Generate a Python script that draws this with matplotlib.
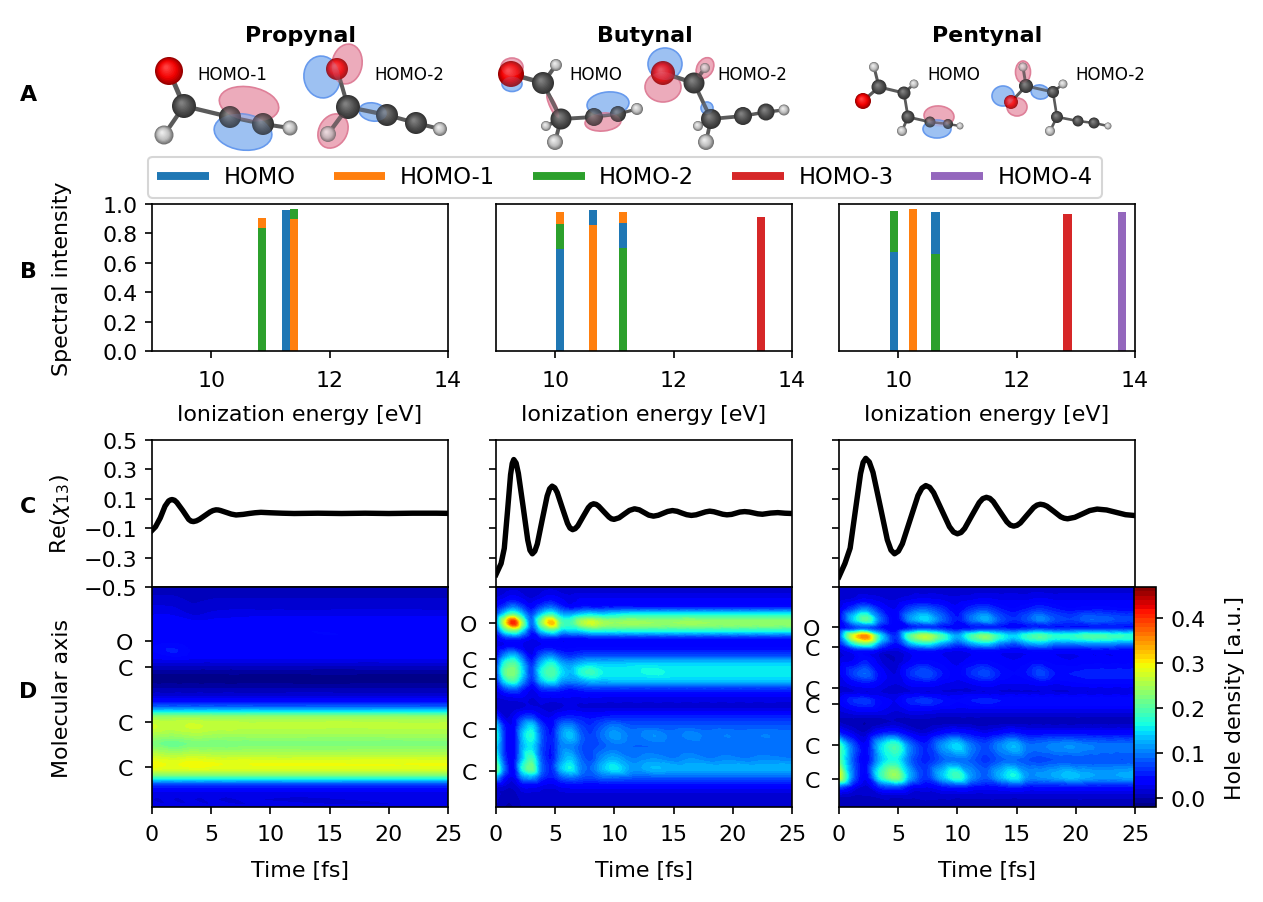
import numpy as np
import matplotlib
matplotlib.use("Agg")
import matplotlib.pyplot as plt
import matplotlib.tri as mtri
from matplotlib.lines import Line2D
from matplotlib.patches import Circle, Ellipse

W, H = 1263, 903
FS = 10.6

names = ["Propynal", "Butynal", "Pentynal"]
orbitals = ["HOMO", "HOMO-1", "HOMO-2", "HOMO-3", "HOMO-4"]
orb_colors = ["#1f77b4", "#ff7f0e", "#2ca02c", "#d62728", "#9467bd"]

# spectral peaks: energy and stacks of (orbital index, top of the segment)
energy_pro = [10.86, 11.27, 11.40]
stack_pro = [[(2, 0.837), (1, 0.905)], [(0, 0.96)], [(1, 0.898), (2, 0.966)]]
energy_but = [10.08, 10.64, 11.15, 13.48]
stack_but = [[(0, 0.697), (2, 0.864), (1, 0.948)], [(1, 0.86), (0, 0.96)],
             [(2, 0.70), (0, 0.869), (1, 0.946)], [(3, 0.914)]]
energy_pen = [9.93, 10.25, 10.63, 12.86, 13.78]
stack_pen = [[(0, 0.674), (2, 0.95)], [(1, 0.964)], [(2, 0.66), (0, 0.946)],
             [(3, 0.932)], [(4, 0.948)]]

# Re(chi_13) curves
t_pro = [0, 0.3, 0.7, 1.1, 1.4, 1.55, 1.7, 1.9, 2.1, 2.6, 3.1, 3.3, 3.5, 3.75, 4.0, 4.45, 4.9, 5.15, 5.4, 5.6,
         5.8, 6.25, 6.7, 7.1, 7.7, 8.2, 8.7, 9.2, 10, 11, 12, 14, 16, 18, 20, 22, 24, 25]
chi_pro = [-0.115, -0.09, -0.03, 0.05, 0.085, 0.092, 0.095, 0.09, 0.075, 0.02, -0.04, -0.052, -0.055, -0.05,
           -0.04, -0.015, 0.01, 0.02, 0.025, 0.024, 0.02, 0.008, -0.004, -0.01, -0.006, 0, 0.005, 0.008, 0.005,
           0.002, 0, 0.002, 0, 0.002, 0, 0.002, 0.002, 0.001]
t_but = [0, 0.43, 0.7, 0.97, 1.23, 1.37, 1.5, 1.7, 1.89, 2.29, 2.68, 2.87, 3.07, 3.28, 3.49, 3.9, 4.32, 4.53,
         4.74, 4.96, 5.17, 5.6, 6.04, 6.25, 6.47, 6.69, 6.91, 7.35, 7.8, 8.02, 8.24, 8.46, 8.67, 9.1, 9.54,
         9.75, 9.97, 10.4, 10.83, 11.27, 11.7, 12.1, 12.5, 12.9,
         13.3, 13.7, 14.1, 14.5, 14.9, 15.3, 15.7, 16.1, 16.5, 16.9, 17.3, 17.7, 18.05, 18.4, 18.8, 19.15,
         19.5, 19.9, 20.25, 20.6, 21, 21.4, 21.75, 22.1, 22.5, 23.2, 23.8, 24.4, 25]
chi_but = [-0.415, -0.34, -0.237, 0.013, 0.264, 0.34, 0.367, 0.343, 0.273, 0.047, -0.18, -0.25, -0.274, -0.256,
           -0.207, -0.044, 0.119, 0.168, 0.186, 0.175, 0.143, 0.038, -0.067, -0.099, -0.11, -0.103, -0.084,
           -0.022, 0.04, 0.059, 0.066, 0.062, 0.05, 0.013, -0.024, -0.036, -0.04,
           -0.029, -0.004, 0.021, 0.032, 0.025, 0.007, -0.011, -0.018, -0.012, 0.001, 0.014, 0.02, 0.015,
           0.003, -0.008, -0.013, -0.009, 0.001, 0.011, 0.016, 0.012, 0.003, -0.005, -0.009, -0.006, 0.002,
           0.01, 0.013, 0.01, 0.004, -0.002, -0.005, 0.003, 0.006, 0.002, 0]
t_pen = [0, 0.5, 0.94, 1.38, 1.82, 2.04, 2.26, 2.56, 2.87, 3.48, 4.08, 4.39, 4.69, 5.02, 5.35, 6.01, 6.67, 7.0,
         7.33, 7.66, 7.99, 8.66, 9.33, 9.67, 10, 10.31, 10.61, 11.22, 11.84, 12.14, 12.45, 12.74, 13.03, 13.6,
         14.18, 14.47, 14.76, 15.04, 15.32, 15.88, 16.44, 16.72, 17, 17.29, 17.57, 18.15,
         18.72, 19.01, 19.3, 19.92, 20.55, 21.17, 21.8, 22.6, 23.4, 24.2, 25]
chi_pen = [-0.43, -0.34, -0.236, 0.018, 0.271, 0.348, 0.375, 0.35, 0.28, 0.05, -0.179, -0.249, -0.274, -0.256,
           -0.206, -0.042, 0.122, 0.172, 0.19, 0.178, 0.142, 0.026, -0.09, -0.126, -0.138, -0.129, -0.102,
           -0.014, 0.074, 0.101, 0.11, 0.103, 0.081, 0.012, -0.057, -0.079, -0.086, -0.08,
           -0.064, -0.011, 0.041, 0.057, 0.063, 0.059, 0.049, 0.014, -0.022, -0.032, -0.036, -0.026, -0.003,
           0.02, 0.03, 0.024, 0.008, -0.008, -0.014]

# hole density grids, rows run down the molecular axis
atoms_pro = [187, 265, 430, 566]
labels_pro = ["O", "C", "C", "C"]
times_pro = [0, 1.7, 3.5, 5.5, 9, 25]
rows_pro = [25, 60, 85, 110, 130, 200, 215, 240, 265, 300, 330, 360, 385, 400, 415, 440, 470, 495, 530,
            560, 585, 600, 615, 640, 685]
dens_pro = [
    [.005, .005, .005, .005, .005, .005],
    [.012, .012, .008, .010, .010, .010],
    [.022, .020, .012, .016, .016, .016],
    [.030, .030, .020, .025, .028, .028],
    [.030, .035, .032, .034, .036, .036],
    [.038, .042, .038, .038, .038, .038],
    [.040, .052, .038, .038, .038, .038],
    [.030, .032, .030, .030, .030, .030],
    [.005, .005, .005, .005, .005, .005],
    [-.015, -.015, -.015, -.015, -.015, -.015],
    [.000, .000, .000, .000, .000, .000],
    [.030, .030, .030, .030, .030, .030],
    [.090, .090, .090, .090, .090, .090],
    [.160, .160, .160, .160, .160, .160],
    [.235, .235, .235, .235, .235, .235],
    [.272, .265, .272, .265, .262, .262],
    [.250, .242, .250, .245, .245, .245],
    [.225, .210, .222, .222, .225, .225],
    [.268, .258, .265, .260, .260, .260],
    [.296, .288, .296, .290, .290, .290],
    [.240, .240, .240, .240, .240, .240],
    [.160, .160, .160, .160, .160, .160],
    [.080, .080, .080, .080, .080, .080],
    [.030, .030, .030, .030, .030, .030],
    [.020, .020, .020, .020, .020, .020],
]

atoms_but = [132, 241, 300, 452, 577]
labels_but = ["O", "C", "C", "C", "C"]
times_but = [0, .7, 1.5, 2.2, 3, 3.8, 4.7, 5.5, 6.3, 7.2, 8, 9, 9.9, 11.5, 13.3, 15, 16.5, 18, 19.5, 21, 22.6, 25]
rows_but = [25, 60, 85, 105, 132, 155, 180, 200, 230, 255, 280, 305, 330, 355, 390, 415, 440, 468, 505,
            540, 570, 595, 620, 650, 685]
dens_but = [
    [.010, .012, .015, .012, .010, .012, .015, .012, .010, .010, .010, .010, .010, .010, .010, .010, .010, .010, .010, .010, .010, .010],
    [.020, .030, .040, .030, .020, .030, .040, .030, .025, .030, .030, .030, .030, .030, .030, .030, .030, .030, .030, .030, .030, .030],
    [.040, .070, .100, .070, .040, .070, .090, .060, .040, .050, .050, .050, .050, .050, .050, .050, .050, .050, .050, .050, .050, .050],
    [.060, .140, .190, .130, .070, .130, .170, .120, .110, .130, .140, .130, .140, .150, .150, .150, .150, .150, .150, .150, .150, .150],
    [.090, .270, .410, .240, .090, .220, .330, .200, .190, .250, .275, .250, .240, .245, .240, .240, .245, .240, .240, .240, .240, .240],
    [.060, .170, .220, .150, .060, .140, .190, .140, .140, .150, .170, .170, .170, .170, .170, .170, .170, .170, .170, .170, .170, .170],
    [.030, .050, .060, .050, .030, .045, .050, .040, .040, .040, .045, .045, .045, .045, .045, .045, .045, .045, .045, .045, .045, .045],
    [.020, .030, .035, .030, .020, .030, .035, .035, .035, .035, .035, .035, .035, .035, .035, .035, .035, .035, .035, .035, .035, .035],
    [.030, .100, .130, .080, .030, .080, .100, .070, .060, .070, .075, .075, .075, .075, .075, .075, .075, .075, .075, .075, .075, .075],
    [.050, .170, .200, .130, .060, .130, .170, .125, .110, .130, .140, .135, .135, .140, .140, .140, .140, .140, .140, .140, .140, .140],
    [.060, .200, .225, .150, .070, .160, .200, .150, .130, .170, .185, .160, .155, .155, .165, .155, .155, .155, .155, .155, .155, .155],
    [.050, .150, .190, .120, .060, .130, .165, .120, .110, .120, .135, .130, .135, .135, .135, .135, .135, .135, .135, .135, .135, .135],
    [.030, .070, .090, .060, .030, .060, .070, .060, .050, .060, .065, .065, .065, .065, .065, .065, .065, .065, .065, .065, .065, .065],
    [.020, .025, .030, .030, .020, .030, .030, .030, .030, .030, .030, .030, .030, .030, .030, .030, .030, .030, .030, .030, .030, .030],
    [.020, .010, .015, .020, .025, .020, .015, .020, .025, .020, .020, .020, .020, .020, .020, .020, .020, .020, .020, .020, .020, .020],
    [.070, .020, .030, .060, .070, .035, .030, .050, .055, .050, .045, .050, .055, .055, .055, .055, .055, .055, .055, .055, .055, .055],
    [.140, .050, .035, .100, .140, .070, .040, .090, .100, .070, .060, .080, .095, .080, .080, .080, .080, .080, .080, .080, .080, .080],
    [.170, .060, .035, .130, .170, .085, .050, .110, .135, .085, .070, .095, .115, .095, .110, .095, .105, .095, .100, .095, .100, .095],
    [.150, .060, .035, .120, .150, .080, .050, .100, .105, .080, .075, .085, .095, .090, .090, .090, .090, .090, .090, .090, .090, .090],
    [.180, .070, .040, .130, .190, .085, .050, .110, .135, .090, .075, .110, .125, .100, .110, .100, .110, .100, .105, .100, .105, .100],
    [.225, .090, .040, .160, .215, .095, .060, .130, .160, .100, .090, .130, .155, .115, .130, .125, .125, .125, .125, .125, .125, .125],
    [.120, .050, .030, .100, .120, .070, .050, .080, .095, .080, .075, .090, .090, .085, .085, .085, .085, .085, .085, .085, .085, .085],
    [.030, .020, .015, .035, .040, .030, .025, .035, .040, .040, .040, .040, .040, .040, .040, .040, .040, .040, .040, .040, .040, .040],
    [.015, .005, .005, .015, .015, .015, .015, .015, .015, .015, .015, .015, .015, .015, .015, .015, .015, .015, .015, .015, .015, .015],
    [.010, .000, .000, .010, .010, .010, .010, .010, .010, .010, .010, .010, .010, .010, .010, .010, .010, .010, .010, .010, .010, .010],
]

atoms_pen = [145, 205, 329, 377, 498, 600]
labels_pen = ["O", "C", "C", "C", "C", "C"]
times_pen = [0, 1.2, 2.26, 3.5, 4.8, 6, 7.3, 8.7, 10, 11.2, 12.4, 13.6, 14.8, 15.9, 17, 18.2, 19.5, 21.2, 22.5, 24, 25]
rows_pen = [25, 65, 90, 122, 145, 152, 172, 195, 215, 245, 285, 315, 340, 365, 395, 430, 460, 500, 545,
            595, 625, 650, 685]
dens_pen = [
    [.010, .010, .010, .010, .010, .010, .010, .010, .010, .010, .010, .010, .010, .010, .010, .010, .010, .010, .010, .010, .010],
    [.015, .025, .035, .025, .020, .030, .035, .030, .025, .030, .035, .030, .030, .030, .035, .030, .030, .030, .030, .030, .030],
    [.020, .070, .100, .050, .030, .070, .085, .060, .035, .060, .070, .050, .040, .050, .060, .050, .040, .045, .045, .040, .040],
    [.030, .140, .205, .090, .035, .110, .145, .090, .050, .095, .125, .080, .060, .080, .105, .080, .070, .090, .085, .075, .075],
    [.030, .070, .085, .050, .030, .050, .060, .050, .040, .050, .050, .050, .040, .050, .050, .050, .050, .050, .050, .050, .050],
    [.040, .080, .100, .060, .035, .070, .090, .070, .050, .060, .070, .070, .060, .070, .080, .070, .070, .070, .070, .070, .070],
    [.070, .280, .355, .150, .060, .200, .260, .190, .120, .190, .230, .170, .140, .180, .200, .175, .175, .195, .190, .180, .180],
    [.045, .160, .210, .100, .045, .120, .160, .115, .075, .115, .140, .100, .080, .110, .125, .100, .100, .110, .110, .100, .100],
    [.020, .045, .055, .030, .020, .040, .050, .040, .030, .040, .045, .040, .035, .040, .045, .040, .040, .040, .040, .040, .040],
    [.020, .030, .050, .020, .010, .030, .040, .035, .025, .035, .040, .035, .030, .035, .040, .035, .030, .035, .035, .035, .035],
    [.025, .070, .090, .040, .020, .060, .080, .050, .035, .060, .075, .050, .040, .050, .075, .050, .050, .055, .055, .055, .055],
    [.020, .035, .045, .030, .020, .035, .040, .030, .025, .030, .040, .030, .030, .030, .035, .030, .035, .040, .040, .040, .040],
    [.015, .020, .020, .020, .015, .020, .020, .020, .020, .020, .020, .020, .020, .020, .020, .020, .020, .020, .020, .020, .020],
    [.030, .060, .065, .040, .030, .055, .065, .050, .040, .050, .055, .050, .050, .050, .050, .050, .050, .050, .050, .050, .050],
    [.020, .030, .035, .030, .020, .030, .030, .025, .025, .025, .025, .025, .025, .025, .025, .025, .025, .025, .025, .025, .025],
    [.010, .005, .000, .005, .010, .005, .005, .005, .005, .005, .005, .005, .005, .005, .005, .005, .005, .005, .005, .005, .005],
    [.050, .020, .010, .040, .050, .025, .015, .035, .045, .035, .025, .035, .045, .035, .035, .035, .035, .035, .035, .035, .035],
    [.190, .080, .035, .140, .185, .095, .055, .110, .145, .095, .075, .105, .130, .095, .095, .105, .110, .100, .095, .095, .095],
    [.210, .080, .035, .130, .165, .090, .055, .085, .095, .085, .065, .085, .090, .080, .075, .080, .080, .080, .080, .080, .080],
    [.280, .090, .035, .170, .235, .120, .065, .130, .185, .110, .085, .125, .160, .110, .110, .120, .135, .120, .115, .120, .125],
    [.080, .035, .015, .060, .075, .040, .030, .045, .055, .045, .040, .045, .055, .045, .045, .045, .045, .045, .045, .045, .045],
    [.015, .010, .010, .015, .015, .015, .015, .015, .015, .015, .015, .015, .015, .015, .015, .015, .015, .015, .015, .015, .015],
    [.005, .005, .005, .005, .005, .005, .005, .005, .005, .005, .005, .005, .005, .005, .005, .005, .005, .005, .005, .005, .005],
]

# orbital sketches, in picture pixels: atoms (x, y, radius, kind), bonds (atom, atom), lobes (x, y, w, h, angle, sign)
mol_atoms = [
    [(169, 72, 14, "O"), (184, 107, 12, "C"), (164, 136, 9.5, "H"), (230, 118, 11, "C"), (263, 125, 11, "C"), (290, 129, 7.5, "H")],
    [(337, 70, 11, "O"), (348, 108, 12, "C"), (328, 135, 8, "H"), (387, 116, 11, "C"), (416, 124, 11, "C"), (440, 130, 7, "H")],
    [(511, 75, 13, "O"), (543, 84, 11, "C"), (556, 66, 6, "H"), (561, 120, 10.5, "C"), (546, 127, 5, "H"), (555, 143, 8, "H"), (594, 118, 9, "C"), (618, 115, 8, "C"), (637, 110, 6, "H")],
    [(663, 74, 12, "O"), (694, 84, 10.5, "C"), (705, 69, 5, "H"), (711, 120, 10, "C"), (698, 127, 5, "H"), (706, 143, 8, "H"), (743, 117, 9, "C"), (766, 113, 8.5, "C"), (784, 111, 5.5, "H")],
    [(863, 102, 8, "O"), (879, 88, 7.5, "C"), (874, 68, 5, "H"), (904, 94, 6.5, "C"), (914, 85, 4.5, "H"), (908, 118, 6.5, "C"), (902, 132, 5, "H"), (930, 123, 5.5, "C"), (948, 125, 5, "C"), (960, 127, 3.5, "H")],
    [(1011, 103, 7, "O"), (1026, 87, 7, "C"), (1023, 68, 4.5, "H"), (1053, 93, 6, "C"), (1063, 85, 4.5, "H"), (1057, 118, 6, "C"), (1050, 132, 5, "H"), (1078, 122, 5.5, "C"), (1094, 124, 5.5, "C"), (1108, 127, 3.5, "H")],
]
mol_bonds = [
    [(0, 1), (1, 2), (1, 3), (3, 4), (4, 5)],
    [(0, 1), (1, 2), (1, 3), (3, 4), (4, 5)],
    [(0, 1), (1, 2), (1, 3), (3, 4), (3, 5), (3, 6), (6, 7), (7, 8)],
    [(0, 1), (1, 2), (1, 3), (3, 4), (3, 5), (3, 6), (6, 7), (7, 8)],
    [(0, 1), (1, 2), (1, 3), (3, 4), (3, 5), (5, 6), (5, 7), (7, 8), (8, 9)],
    [(0, 1), (1, 2), (1, 3), (3, 4), (3, 5), (5, 6), (5, 7), (7, 8), (8, 9)],
]
mol_lobes = [
    [(249, 105, 60, 34, 10, 1), (243, 133, 58, 36, 8, -1)],
    [(322, 78, 36, 42, -10, -1), (347, 65, 30, 40, 10, 1), (333, 132, 28, 36, 30, 1), (373, 113, 28, 18, 10, -1)],
    [(512, 68, 22, 18, 0, 1), (512, 85, 20, 15, 0, -1), (608, 105, 42, 24, -5, -1), (603, 123, 36, 18, -5, 1), (553, 107, 6, 26, -25, 1)],
    [(665, 65, 34, 32, 0, -1), (663, 88, 36, 30, 0, 1), (705, 69, 16, 22, 30, 1), (707, 109, 12, 12, 0, -1)],
    [(939, 117, 30, 20, 5, 1), (937, 130, 28, 18, 0, -1)],
    [(1003, 97, 22, 20, 0, -1), (1017, 108, 20, 18, 0, 1), (1023, 73, 15, 22, 0, 1), (1040, 93, 18, 14, 10, -1)],
]
orb_text = [(232, "HOMO-1"), (409, "HOMO-2"), (596, "HOMO"), (752, "HOMO-2"), (954, "HOMO"), (1110, "HOMO-2")]

plt.rcParams["font.size"] = FS


def px_axes(fig, x0, y0, x1, y1):
    return fig.add_axes([x0 / W, 1 - y1 / H, (x1 - x0) / W, (y1 - y0) / H])


def draw_atom(ax, x, y, r, kind):
    base = {"O": (0.6, 0, 0), "C": (0.2, 0.2, 0.2), "H": (0.45, 0.45, 0.45)}[kind]
    mid = {"O": (0.95, 0, 0), "C": (0.31, 0.31, 0.31), "H": (0.75, 0.75, 0.75)}[kind]
    top = {"O": (1, 0.25, 0.25), "C": (0.5, 0.5, 0.5), "H": (0.92, 0.92, 0.92)}[kind]
    for f in np.linspace(0, 1, 10):
        if f < 0.4:
            c = [b + (m - b) * f / 0.4 for b, m in zip(base, mid)]
        else:
            c = [m + (t - m) * (f - 0.4) / 0.6 for m, t in zip(mid, top)]
        ax.add_patch(Circle((x - 0.2 * r * f, y - 0.25 * r * f), r * (1 - 0.85 * f), fc=c, ec="none", zorder=3))


def smooth_density(times, rows, dens):
    # regular grid split into triangles, refined by the cubic interpolator of matplotlib.tri
    tt, rr = np.meshgrid(times, rows)
    nr, nt = tt.shape
    idx = np.arange(nr * nt).reshape(nr, nt)
    tris = np.vstack([
        np.c_[idx[:-1, :-1].ravel(), idx[:-1, 1:].ravel(), idx[1:, 1:].ravel()],
        np.c_[idx[:-1, :-1].ravel(), idx[1:, 1:].ravel(), idx[1:, :-1].ravel()],
    ])
    tri = mtri.Triangulation(tt.ravel(), rr.ravel(), tris)
    z = np.array(dens).ravel()
    interp = mtri.CubicTriInterpolator(tri, z, kind="geom")
    return mtri.UniformTriRefiner(tri).refine_field(z, triinterpolator=interp, subdiv=3)


fig = plt.figure(figsize=(W / 150, H / 150), dpi=150)

lefts = [152, 496, 839]
spectra = [(energy_pro, stack_pro), (energy_but, stack_but), (energy_pen, stack_pen)]
curves = [(t_pro, chi_pro), (t_but, chi_but), (t_pen, chi_pen)]
grids = [(times_pro, rows_pro, dens_pro, atoms_pro, labels_pro),
         (times_but, rows_but, dens_but, atoms_but, labels_but),
         (times_pen, rows_pen, dens_pen, atoms_pen, labels_pen)]
levels = np.linspace(-0.02, 0.47, 50)

for i, x0 in enumerate(lefts):
    x1 = x0 + 296

    # spectrum
    ax = px_axes(fig, x0, 205, x1, 352)
    energies, stacks = spectra[i]
    for e, stack in zip(energies, stacks):
        low = 0
        for orb, top in stack:
            ax.bar(e, top - low, bottom=low, width=0.14, color=orb_colors[orb])
            low = top
    ax.set_xlim(9, 14)
    ax.set_ylim(0, 1)
    ax.set_xticks([10, 12, 14])
    ax.tick_params(axis="x", pad=5.5)
    ax.set_xlabel("Ionization energy [eV]", labelpad=7)
    ax.set_yticks([0, 0.2, 0.4, 0.6, 0.8, 1.0])
    if i == 0:
        ax.set_ylabel("Spectral intensity")
        ax.yaxis.set_label_coords(-80 / 296, 0.5)
    else:
        ax.set_yticks([])

    # coherence
    ax = px_axes(fig, x0, 441, x1, 588)
    t, chi = curves[i]
    ax.plot(t, chi, color="k", lw=2.6)
    ax.set_xlim(0, 25)
    ax.set_ylim(-0.5, 0.5)
    ax.set_xticks([])
    ax.set_yticks([-0.5, -0.3, -0.1, 0.1, 0.3, 0.5])
    if i == 0:
        ax.set_ylabel(r"Re($\chi_{13}$)")
        ax.yaxis.set_label_coords(-80 / 296, 0.5)
    else:
        ax.set_yticklabels([])

    # hole density
    ax = px_axes(fig, x0, 588, x1, 808)
    times, rows, dens, atoms, atom_labels = grids[i]
    tri_fine, z_fine = smooth_density(times, rows, dens)
    cf = ax.tricontourf(tri_fine, np.clip(z_fine, -0.0199, 0.4699), levels=levels, cmap="jet")
    ax.set_ylim(685, 25)
    ax.set_xlim(0, 25)
    ax.set_xticks([0, 5, 10, 15, 20, 25])
    ax.tick_params(axis="x", pad=4.5)
    ax.tick_params(axis="y", pad=5.5)
    ax.set_xlabel("Time [fs]", labelpad=8)
    ax.set_yticks(atoms)
    ax.set_yticklabels(atom_labels)
    if i == 0:
        ax.set_ylabel("Molecular axis")
        ax.yaxis.set_label_coords(-80 / 296, 0.5)

    fig.text((x0 + 148.5) / W, 1 - 36 / H, names[i], ha="center", va="center", fontweight="bold")

cax = px_axes(fig, 1134, 588, 1156, 808)
cb = fig.colorbar(cf, cax=cax)
cb.set_ticks([0, 0.1, 0.2, 0.3, 0.4])
cb.set_label("Hole density [a.u.]", labelpad=9)

for y, letter in zip([95, 272, 507, 692], "ABCD"):
    fig.text(28 / W, 1 - y / H, letter, ha="center", va="center", fontweight="bold")

handles = [Line2D([], [], color=c, lw=3.8, solid_capstyle="butt") for c in orb_colors]
fig.legend(handles, orbitals, ncol=5, fontsize=10.8, loc="center", bbox_to_anchor=(625 / W, 1 - 178 / H),
           columnspacing=1.68, handlelength=2.3, handletextpad=0.65)

# molecule pictures on top, in pixel coordinates
over = fig.add_axes([0, 0, 1, 1], facecolor="none")
over.set_xlim(0, W)
over.set_ylim(H, 0)
over.axis("off")
for atoms, bonds, lobes in zip(mol_atoms, mol_bonds, mol_lobes):
    for x, y, w, h, ang, sign in lobes:
        fc = (0.93, 0.68, 0.74, 0.9) if sign > 0 else (0.62, 0.76, 0.95, 0.9)
        ec = (0.87, 0.5, 0.6, 1) if sign > 0 else (0.4, 0.6, 0.93, 1)
        over.add_patch(Ellipse((x, y), w, h, angle=ang, fc=fc, ec=ec, lw=0.8, zorder=1))
    for a, b in bonds:
        over.plot([atoms[a][0], atoms[b][0]], [atoms[a][1], atoms[b][1]], color="#5a5a5a",
                  lw=atoms[a][2] * 0.13 + 0.5, zorder=2)
    for x, y, r, kind in atoms:
        draw_atom(over, x, y, r, kind)
    for x, y, w, h, ang, sign in lobes:
        fc = (0.9, 0.5, 0.6, 0.18) if sign > 0 else (0.45, 0.65, 0.95, 0.18)
        over.add_patch(Ellipse((x, y), w, h, angle=ang, fc=fc, ec="none", zorder=4))
for x, s in orb_text:
    over.text(x, 75, s, ha="center", va="center", fontsize=8.0)

fig.savefig("out.png", dpi=150)
